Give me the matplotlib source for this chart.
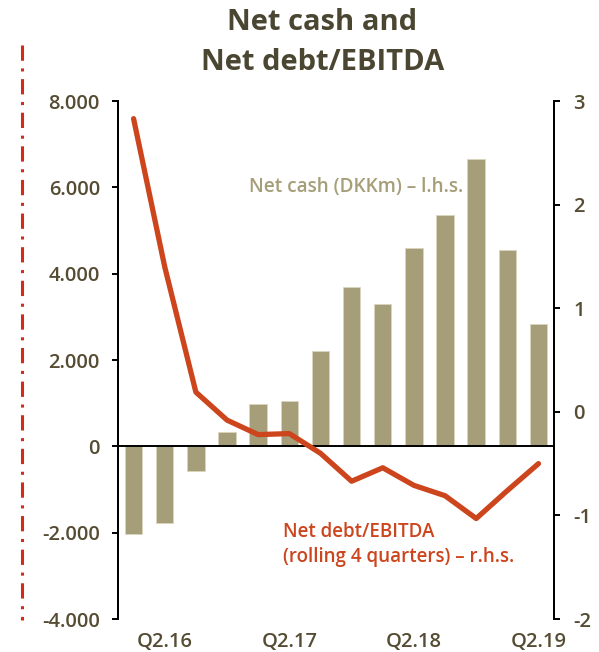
import matplotlib
matplotlib.use("Agg")
import matplotlib.pyplot as plt
from matplotlib.lines import Line2D
import numpy as np

# quarters Q1.16 .. Q2.19
quarters = ["Q1.16", "Q2.16", "Q3.16", "Q4.16", "Q1.17", "Q2.17", "Q3.17",
            "Q4.17", "Q1.18", "Q2.18", "Q3.18", "Q4.18", "Q1.19", "Q2.19"]
net_cash = [-2040, -1770, -565, 325, 980, 1050, 2210,
            3685, 3300, 4600, 5365, 6650, 4560, 2830]
net_debt_ebitda = [2.83, 1.40, 0.19, -0.08, -0.22, -0.21, -0.40,
                   -0.67, -0.54, -0.71, -0.81, -1.03, -0.76, -0.50]
shown_ticks = ["Q2.16", "Q2.17", "Q2.18", "Q2.19"]

left_ticks = [-4000, -2000, 0, 2000, 4000, 6000, 8000]
right_ticks = [-2, -1, 0, 1, 2, 3]

bar_col = "#a59e78"
line_col = "#cc451d"
text_col = "#554c33"

plt.rcParams["font.family"] = ["Open Sans", "DejaVu Sans"]

fig = plt.figure(figsize=(5.99, 6.52), dpi=100)
ax = fig.add_axes([0.197, 0.0506, 0.728, 0.7944])
ax2 = ax.twinx()

x = np.arange(len(quarters))
ax.bar(x, net_cash, width=0.56, color=bar_col, edgecolor="#d9d4bd", linewidth=0.6, zorder=2)
ax.axhline(0, color="black", lw=1.4, zorder=3)
ax.set_xlim(-0.5, len(quarters) - 0.5)
ax.set_ylim(-4000, 8000)
ax.set_yticks(left_ticks)
ax.set_yticklabels([f"{v:,}".replace(",", ".") for v in left_ticks])

ax2.plot(x, net_debt_ebitda, color=line_col, lw=3.8, solid_joinstyle="round",
         solid_capstyle="round", zorder=4)
ax2.set_ylim(-2, 3)
ax2.set_yticks(right_ticks)
ax2.set_yticklabels([str(v) for v in right_ticks])

ax.set_xticks([quarters.index(q) for q in shown_ticks])
ax.set_xticklabels(shown_ticks)
ax.tick_params(axis="x", length=0, pad=9, labelsize=14.5, labelcolor=text_col)
ax.tick_params(axis="y", direction="out", length=4, width=1.4, pad=9,
               labelsize=14.5, labelcolor=text_col)
ax2.tick_params(axis="y", direction="out", length=4, width=1.4, pad=10,
                labelsize=14.5, labelcolor=text_col)
for lbl in ax.get_xticklabels() + ax.get_yticklabels() + ax2.get_yticklabels():
    lbl.set_fontweight("semibold")

for a in (ax, ax2):
    for s in ("top", "bottom"):
        a.spines[s].set_visible(False)
    a.spines["left"].set_linewidth(1.4)
    a.spines["right"].set_linewidth(1.4)
ax2.set_zorder(ax.get_zorder() + 1)
ax2.patch.set_visible(False)

ax.text(7.14, 6000, "Net cash (DKKm) \u2013 l.h.s.", color=bar_col, fontsize=13.7,
        fontweight="semibold", ha="center", va="center")
ax2.text(4.81, -1.28, "Net debt/EBITDA\n(rolling 4 quarters) \u2013 r.h.s.",
         color=line_col, fontsize=13.5, fontweight="semibold", ha="left", va="center",
         linespacing=1.3)

fig.text(0.538, 0.935, "Net cash and\nNet debt/EBITDA", ha="center", va="center",
         fontsize=21, fontweight="bold", color="#4a4632", linespacing=1.5)

# dash-dot divider on the far left
fig.add_artist(Line2D([22 / 599, 22 / 599], [1 - 45 / 652, 1 - 620 / 652],
                      color="#d32a1a", lw=2.2, dashes=(5, 2.5, 1, 2.5)))

fig.savefig("out.png", dpi=100)
